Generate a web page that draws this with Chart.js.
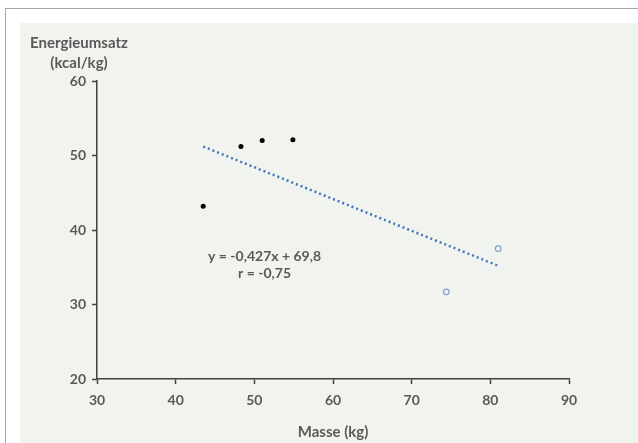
<!DOCTYPE html>
<html>
<head>
<meta charset="utf-8">
<script src="https://cdn.jsdelivr.net/npm/chart.js@4/dist/chart.umd.min.js"></script>
<style>
  html, body { margin: 0; padding: 0; background: #ffffff; }
  body { width: 638px; height: 443px; position: relative; overflow: hidden; }
  .frame { position: absolute; left: 5px; top: 8px; right: -2px; bottom: -2px; border-left: 1px solid #a6a6a6; border-top: 1px solid #a6a6a6; }
  .plot { position: absolute; left: 20px; top: 23px; width: 618px; height: 420px; background: #f1f4ee; }
  canvas { position: absolute; left: 0; top: 0; }
</style>
</head>
<body>
<div class="frame"></div>
<div class="plot"></div>
<canvas id="scatter-chart" width="638" height="443"></canvas>
<script>
// Measured points (Masse kg, Energieumsatz kcal/kg)
const filledX = [43.5, 48.3, 51.0, 54.9];
const filledY = [43.2, 51.2, 52.0, 52.1];
const openX = [81.0, 74.4];
const openY = [37.5, 31.7];

// Linear trend line endpoints
const trendX = [43.5, 81.0];
const trendY = [51.2, 35.2];

const xTicks = [30, 40, 50, 60, 70, 80, 90];
const yTicks = [20, 30, 40, 50, 60];

const xTitle = 'Masse (kg)';
const yTitle = ['Energieumsatz', '(kcal/kg)'];
const equation = ['y = -0,427x + 69,8', 'r = -0,75'];

const TEXT_COLOR = '#595959';
const FONT = 'Lato, "Liberation Sans", sans-serif';

const toPoints = (xs, ys) => xs.map((x, i) => ({ x, y: ys[i] }));

/**
 * Draws the horizontal y-axis title and the regression text
 */
const labelsPlugin = {
  id: 'labels',
  afterDraw(chart) {
    const { ctx, scales } = chart;
    ctx.save();
    ctx.fillStyle = TEXT_COLOR;
    ctx.textAlign = 'center';
    ctx.textBaseline = 'middle';
    ctx.font = `bold 15px ${FONT}`;
    ctx.fillText(yTitle[0], 79, 43);
    ctx.fillText(yTitle[1], 79, 63);

    ctx.font = `bold 14px ${FONT}`;
    const cx = scales.x.getPixelForValue(51.3);
    ctx.fillText(equation[0], cx, scales.y.getPixelForValue(36.5));
    ctx.fillText(equation[1], cx, scales.y.getPixelForValue(34.2));
    ctx.restore();
  }
};

const ctx = document.getElementById('scatter-chart');

new Chart(ctx, {
  type: 'scatter',
  data: {
    datasets: [{
      label: 'Trend',
      type: 'line',
      data: toPoints(trendX, trendY),
      borderColor: '#4472c4',
      borderWidth: 2.5,
      borderDash: [2, 3],
      pointRadius: 0,
      fill: false
    }, {
      label: 'Gruppe 1',
      data: toPoints(filledX, filledY),
      backgroundColor: '#000000',
      borderColor: '#000000',
      pointRadius: 2.5,
      borderWidth: 0
    }, {
      label: 'Gruppe 2',
      data: toPoints(openX, openY),
      backgroundColor: '#f1f4ee',
      borderColor: '#7f9fd6',
      pointRadius: 2.8,
      borderWidth: 1.2
    }]
  },
  options: {
    responsive: false,
    animation: false,
    layout: {
      padding: { left: 20, right: 69, top: 81, bottom: 0 }
    },
    plugins: {
      legend: { display: false },
      tooltip: { enabled: false }
    },
    scales: {
      x: {
        type: 'linear',
        min: 30,
        max: 90,
        afterFit: (scale) => { scale.height = 64; },
        afterBuildTicks: (scale) => { scale.ticks = xTicks.map(v => ({ value: v })); },
        border: { display: true, color: '#404040', width: 1.5 },
        grid: { display: true, drawOnChartArea: false, drawTicks: true, tickLength: 5, tickColor: '#404040', tickWidth: 1.5 },
        ticks: { color: TEXT_COLOR, font: { family: FONT, size: 14, weight: 'bold' }, padding: 8, maxRotation: 0 },
        title: {
          display: true,
          text: xTitle,
          color: TEXT_COLOR,
          font: { family: FONT, size: 15, weight: 'bold' },
          padding: { top: 10, bottom: 2 }
        }
      },
      y: {
        type: 'linear',
        min: 20,
        max: 60,
        afterFit: (scale) => { scale.width = 77; },
        afterBuildTicks: (scale) => { scale.ticks = yTicks.map(v => ({ value: v })); },
        border: { display: true, color: '#404040', width: 1.5 },
        grid: { display: true, drawOnChartArea: false, drawTicks: true, tickLength: 5, tickColor: '#404040', tickWidth: 1.5 },
        ticks: { color: TEXT_COLOR, font: { family: FONT, size: 14, weight: 'bold' }, padding: 6 }
      }
    }
  },
  plugins: [labelsPlugin]
});
</script>
</body>
</html>
